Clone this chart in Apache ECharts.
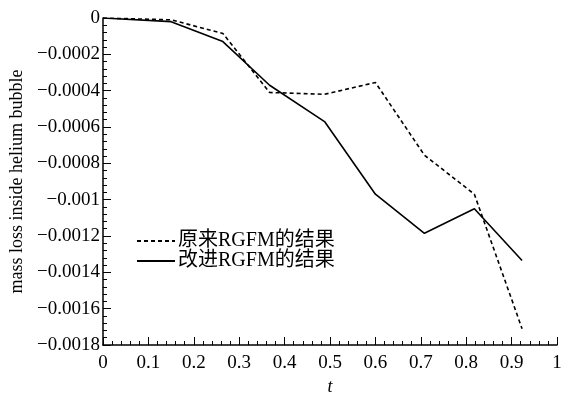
<!DOCTYPE html>
<html><head><meta charset="utf-8">
<script src="https://cdn.jsdelivr.net/npm/echarts@6/dist/echarts.min.js"></script>
<style>html,body{margin:0;padding:0;background:#fff}#c{width:565px;height:394px}</style>
</head><body><div id="c"></div>
<script>
var tValues = [0, 0.15, 0.264, 0.367, 0.488, 0.6, 0.708, 0.818, 0.923];
var originalRGFM = [0, -0.00001, -0.000085, -0.00041, -0.00042, -0.000355, -0.000755, -0.00097, -0.00171];
var improvedRGFM = [0, -0.00002, -0.00013, -0.00037, -0.00057, -0.00097, -0.001185, -0.00105, -0.001335];
var seriesNames = ['原来RGFM的结果', '改进RGFM的结果'];
var xAxisTitle = 't';
var yAxisTitle = 'mass loss inside helium bubble';

function pairs(xs, ys){ return xs.map(function(x,i){ return [x, ys[i]]; }); }
var serif = 'Liberation Serif, Noto Sans CJK SC, serif';
var chart = echarts.init(document.getElementById('c'));
chart.setOption({
  animation: false,
  backgroundColor: '#fff',
  grid: {left: 103, right: 8, top: 18, bottom: 49, containLabel: false, outerBoundsMode: 'none'},
  legend: {
    orient: 'vertical', left: 136, top: 231, padding: 0,
    itemWidth: 38, itemHeight: 10, itemGap: 0,
    itemStyle: {opacity: 0},
    textStyle: {fontFamily: serif, fontSize: 20, color: '#000', lineHeight: 18, padding: [0,0,0,-2]},
    data: seriesNames
  },
  xAxis: {
    type: 'value', min: 0, max: 1, interval: 0.1,
    name: xAxisTitle, nameLocation: 'middle', nameGap: 25,
    nameTextStyle: {fontFamily: serif, fontStyle: 'italic', fontSize: 18, color: '#000'},
    axisLine: {onZero: false, lineStyle: {color: '#000', width: 1.5}},
    axisTick: {inside: true, length: 8, lineStyle: {color: '#000'}},
    minorTick: {show: true, splitNumber: 5, length: 4, lineStyle: {color: '#000'}},
    splitLine: {show: false},
    axisLabel: {fontFamily: serif, fontSize: 19, color: '#000', margin: 9,
      formatter: function(v){ return String(+v.toFixed(2)); }}
  },
  yAxis: {
    type: 'value', min: -0.0018, max: 0, interval: 0.0002,
    name: yAxisTitle, nameLocation: 'middle', nameGap: 71,
    nameTextStyle: {fontFamily: serif, fontSize: 18, color: '#000'},
    axisLine: {onZero: false, lineStyle: {color: '#000', width: 1.5}},
    axisTick: {inside: true, length: 8, lineStyle: {color: '#000'}},
    minorTick: {show: true, splitNumber: 5, length: 4, lineStyle: {color: '#000'}},
    splitLine: {show: false},
    axisLabel: {fontFamily: serif, fontSize: 19, color: '#000', margin: 3,
      formatter: function(v){ var s = String(+v.toFixed(4)); return s.replace('-', '\u2212'); }}
  },
  series: [
    {name: seriesNames[0], type: 'line', symbol: 'none', data: pairs(tValues, originalRGFM),
     lineStyle: {color: '#000', width: 1.6, type: [4, 3]}, itemStyle: {color: '#000'}},
    {name: seriesNames[1], type: 'line', symbol: 'none', data: pairs(tValues, improvedRGFM),
     lineStyle: {color: '#000', width: 1.6}, itemStyle: {color: '#000'}}
  ]
});
</script></body></html>
